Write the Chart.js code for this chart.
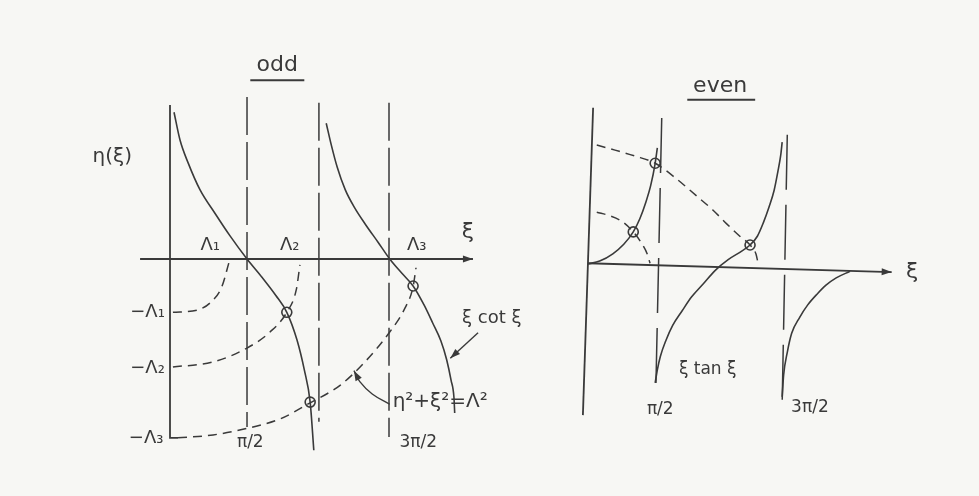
<!DOCTYPE html>
<html>
<head>
<meta charset="utf-8">
<script src="https://cdn.jsdelivr.net/npm/chart.js@4.4.0/dist/chart.umd.min.js"></script>
<style>
    body { margin: 0; background: #f7f7f4; }
    #hoja { position: relative; width: 979px; height: 496px; }
    canvas { position: absolute; top: 0; }
    #graficoImpar { left: 0; }
    #graficoPar { left: 560px; }
</style>
</head>
<body>
<div id="hoja">
    <canvas id="graficoImpar" width="575" height="496"></canvas>
    <canvas id="graficoPar" width="419" height="496"></canvas>
</div>
<script>

// ---- impar: eta = -xi cot xi ----
const ejeYImparXi = [0, 0, 0.11];
const ejeYImparEta = [2.11, -2.45, -2.45];
const ejeXImparXi = [-0.41, 4.15];
const ejeXImparEta = [0, 0];

const asintotasImparXi = [1.055, 2.04, 3.0];
const asintotasImparTope = [2.22, 2.14, 2.14];
const asintotasImparFondo = [-2.30, -2.23, -2.44];

const rama1Xi = [0.055, 0.137, 0.247, 0.41, 0.62, 0.82, 1.055, 1.26, 1.45, 1.60, 1.74, 1.84, 1.92, 1.97];
const rama1Eta = [2.01, 1.63, 1.32, 0.95, 0.62, 0.32, 0, -0.25, -0.50, -0.73, -1.11, -1.52, -1.96, -2.62];
const rama2Xi = [2.14, 2.21, 2.29, 2.40, 2.53, 2.68, 2.85, 3.01, 3.18, 3.33, 3.48, 3.60, 3.71, 3.79, 3.85, 3.89, 3.90];
const rama2Eta = [1.86, 1.56, 1.26, 0.95, 0.70, 0.47, 0.23, 0, -0.20, -0.37, -0.63, -0.88, -1.12, -1.38, -1.66, -1.90, -2.11];

const arco1Xi = [0.04, 0.37, 0.55, 0.71, 0.81];
const arco1Eta = [-0.73, -0.70, -0.60, -0.38, -0.04];
const arco2Xi = [0.04, 0.59, 1.055, 1.37, 1.60, 1.73, 1.78];
const arco2Eta = [-1.48, -1.41, -1.22, -1.00, -0.73, -0.42, -0.08];
const arco3Xi = [0.11, 0.59, 1.055, 1.51, 1.92, 2.33, 2.67, 3.01, 3.22, 3.33, 3.37];
const arco3Eta = [-2.45, -2.41, -2.32, -2.19, -1.97, -1.73, -1.41, -1.00, -0.67, -0.38, -0.12];

const cortesImparXi = [1.60, 1.92, 3.33];
const cortesImparEta = [-0.73, -1.96, -0.37];

const flechaCotXi = [4.22, 3.84];
const flechaCotEta = [-1.01, -1.36];
const flechaCirculoXi = [3.01, 2.77, 2.60, 2.52];
const flechaCirculoEta = [-1.99, -1.85, -1.68, -1.53];
const subrayadoImparXi = [1.10, 1.84];
const subrayadoImparEta = [2.45, 2.45];

// ---- par: eta = xi tan xi ----
const ejeYParXi = [0.07, -0.07];
const ejeYParEta = [2.14, -2.07];
const ejeXParXi = [0, 4.16];
const ejeXParEta = [0.01, -0.11];

const asintotasParTopeXi = [1.01, 2.73];
const asintotasParTopeEta = [2.0, 1.77];
const asintotasParFondoXi = [0.93, 2.66];
const asintotasParFondoEta = [-1.68, -1.90];

const ramaAXi = [0, 0.16, 0.34, 0.49, 0.62, 0.71, 0.79, 0.86, 0.92, 0.95];
const ramaAEta = [0, 0.04, 0.14, 0.27, 0.44, 0.62, 0.84, 1.08, 1.38, 1.59];
const ramaBXi = [0.92, 0.95, 0.99, 1.07, 1.16, 1.29, 1.42, 1.58, 1.74, 1.92, 2.08, 2.22, 2.32, 2.40, 2.48, 2.55, 2.60, 2.64, 2.66];
const ramaBEta = [-1.63, -1.45, -1.27, -1.04, -0.84, -0.64, -0.45, -0.27, -0.09, 0.06, 0.16, 0.26, 0.38, 0.56, 0.78, 1.01, 1.26, 1.49, 1.67];
const ramaCXi = [2.66, 2.68, 2.73, 2.79, 2.90, 3.01, 3.14, 3.26, 3.40, 3.59];
const ramaCEta = [-1.82, -1.52, -1.21, -0.95, -0.73, -0.56, -0.41, -0.29, -0.19, -0.10];

const arcoP1Xi = [0.12, 0.30, 0.47, 0.62, 0.73, 0.81, 0.85];
const arcoP1Eta = [0.71, 0.66, 0.58, 0.44, 0.29, 0.14, 0.01];
const arcoP2Xi = [0.12, 0.37, 0.64, 0.92, 1.22, 1.49, 1.71, 1.90, 2.08, 2.22, 2.30, 2.33];
const arcoP2Eta = [1.63, 1.56, 1.48, 1.38, 1.16, 0.93, 0.74, 0.55, 0.38, 0.26, 0.14, 0.01];

const cortesParXi = [0.62, 0.92, 2.22];
const cortesParEta = [0.44, 1.38, 0.26];
const subrayadoParXi = [1.36, 2.29];
const subrayadoParEta = [2.25, 2.25];

const TINTA = '#3a3a3a';
const PAPEL = '#f7f7f4';

function puntos(xs, ys) {
    return xs.map((x, i) => ({ x: x, y: ys[i] }));
}

function trazo(xs, ys, extra) {
    return Object.assign({
        data: puntos(xs, ys),
        showLine: true,
        borderColor: TINTA,
        borderWidth: 1.6,
        pointRadius: 0,
        cubicInterpolationMode: 'monotone',
        fill: false
    }, extra || {});
}

// segmentos rectos (ejes, asintotas, subrayados)
function recta(xs, ys, extra) {
    return trazo(xs, ys, Object.assign({ cubicInterpolationMode: 'default', tension: 0 }, extra || {}));
}

function marcas(xs, ys) {
    return [
        {
            data: puntos(xs, ys),
            showLine: false,
            pointStyle: 'circle',
            pointRadius: 5,
            pointBackgroundColor: PAPEL,
            pointBorderColor: TINTA,
            pointBorderWidth: 1.6
        },
        {
            data: puntos(xs, ys),
            showLine: false,
            pointRadius: 1.6,
            pointBackgroundColor: TINTA,
            pointBorderWidth: 0
        }
    ];
}

// puntas de flecha y rotulos
const anotaciones = {
    id: 'anotaciones',
    afterDatasetsDraw(chart, args, opts) {
        const c = chart.ctx;
        const sx = chart.scales.x, sy = chart.scales.y;
        c.save();
        c.fillStyle = TINTA;
        chart.data.datasets.forEach((ds, i) => {
            if (!ds.flecha) return;
            const pts = chart.getDatasetMeta(i).data;
            const a = pts[pts.length - 2], b = pts[pts.length - 1];
            const ang = Math.atan2(b.y - a.y, b.x - a.x);
            c.beginPath();
            c.moveTo(b.x, b.y);
            c.lineTo(b.x - 10 * Math.cos(ang) + 3.5 * Math.sin(ang), b.y - 10 * Math.sin(ang) - 3.5 * Math.cos(ang));
            c.lineTo(b.x - 10 * Math.cos(ang) - 3.5 * Math.sin(ang), b.y - 10 * Math.sin(ang) + 3.5 * Math.cos(ang));
            c.closePath();
            c.fill();
        });
        c.textBaseline = 'middle';
        (opts.textos || []).forEach(t => {
            c.font = (t.tam || 18) + 'px "DejaVu Sans"';
            c.textAlign = t.alin || 'center';
            c.fillText(t.texto, sx.getPixelForValue(t.xi), sy.getPixelForValue(t.eta));
        });
        c.restore();
    }
};

function crearGrafico(id, datasets, rangos, textos) {
    return new Chart(document.getElementById(id).getContext('2d'), {
        type: 'scatter',
        data: { datasets: datasets },
        options: {
            responsive: false,
            animation: false,
            layout: { padding: 0, autoPadding: false },
            plugins: {
                legend: { display: false },
                tooltip: { enabled: false },
                anotaciones: { textos: textos }
            },
            scales: {
                x: { type: 'linear', display: false, min: rangos[0], max: rangos[1] },
                y: { type: 'linear', display: false, min: rangos[2], max: rangos[3] }
            }
        },
        plugins: [anotaciones]
    });
}

const discontinuaLarga = { borderDash: [38, 7], borderWidth: 1.5 };
const discontinuaCorta = { borderDash: [9, 6], borderWidth: 1.5 };
const discontinuaPar = { borderDash: [55, 15], borderWidth: 1.5 };

const datosImpar = [
    recta(ejeYImparXi, ejeYImparEta, { borderWidth: 1.8 }),
    recta(ejeXImparXi, ejeXImparEta, { borderWidth: 1.8, flecha: true }),
    ...asintotasImparXi.map((x, i) => recta([x, x], [asintotasImparTope[i], asintotasImparFondo[i]], discontinuaLarga)),
    trazo(rama1Xi, rama1Eta),
    trazo(rama2Xi, rama2Eta),
    trazo(arco1Xi, arco1Eta, discontinuaCorta),
    trazo(arco2Xi, arco2Eta, discontinuaCorta),
    trazo(arco3Xi, arco3Eta, discontinuaCorta),
    recta(flechaCotXi, flechaCotEta, { borderWidth: 1.4, flecha: true }),
    trazo(flechaCirculoXi, flechaCirculoEta, { borderWidth: 1.4, cubicInterpolationMode: 'default', tension: 0.4, flecha: true }),
    recta(subrayadoImparXi, subrayadoImparEta, { borderWidth: 2 }),
    ...marcas(cortesImparXi, cortesImparEta)
];

const textosImpar = [
    { texto: 'odd', xi: 1.47, eta: 2.66, tam: 22 },
    { texto: 'η(ξ)', xi: -0.79, eta: 1.40, tam: 20 },
    { texto: 'Λ₁', xi: 0.55, eta: 0.19 },
    { texto: 'Λ₂', xi: 1.64, eta: 0.19 },
    { texto: 'Λ₃', xi: 3.38, eta: 0.19 },
    { texto: 'ξ', xi: 4.08, eta: 0.37, tam: 22 },
    { texto: '−Λ₁', xi: -0.07, eta: -0.73, alin: 'right' },
    { texto: '−Λ₂', xi: -0.07, eta: -1.50, alin: 'right' },
    { texto: '−Λ₃', xi: -0.09, eta: -2.45, alin: 'right' },
    { texto: 'π/2', xi: 1.10, eta: -2.52, tam: 17 },
    { texto: '3π/2', xi: 3.40, eta: -2.52, tam: 17 },
    { texto: 'ξ cot ξ', xi: 4.0, eta: -0.81, alin: 'left', tam: 18 },
    { texto: 'η²+ξ²=Λ²', xi: 3.05, eta: -1.96, alin: 'left', tam: 20 }
];

const datosPar = [
    recta(ejeYParXi, ejeYParEta, { borderWidth: 1.8 }),
    recta(ejeXParXi, ejeXParEta, { borderWidth: 1.8, flecha: true }),
    ...asintotasParTopeXi.map((x, i) => recta([x, asintotasParFondoXi[i]], [asintotasParTopeEta[i], asintotasParFondoEta[i]], discontinuaPar)),
    trazo(ramaAXi, ramaAEta),
    trazo(ramaBXi, ramaBEta),
    trazo(ramaCXi, ramaCEta),
    trazo(arcoP1Xi, arcoP1Eta, discontinuaCorta),
    trazo(arcoP2Xi, arcoP2Eta, discontinuaCorta),
    recta(subrayadoParXi, subrayadoParEta, { borderWidth: 2 }),
    ...marcas(cortesParXi, cortesParEta)
];

const textosPar = [
    { texto: 'even', xi: 1.81, eta: 2.43, tam: 22 },
    { texto: 'ξ', xi: 4.44, eta: -0.11, tam: 22 },
    { texto: 'π/2', xi: 0.99, eta: -2.0, tam: 17 },
    { texto: '3π/2', xi: 3.04, eta: -1.96, tam: 17 },
    { texto: 'ξ tan ξ', xi: 1.64, eta: -1.45, tam: 17 }
];

// 73 px por unidad en ambos paneles
crearGrafico('graficoImpar', datosImpar, [-170 / 73, 405 / 73, -237 / 73, 259 / 73], textosImpar);
crearGrafico('graficoPar', datosPar, [-28 / 73, 391 / 73, -232 / 73, 264 / 73], textosPar);
</script>
</body>
</html>
